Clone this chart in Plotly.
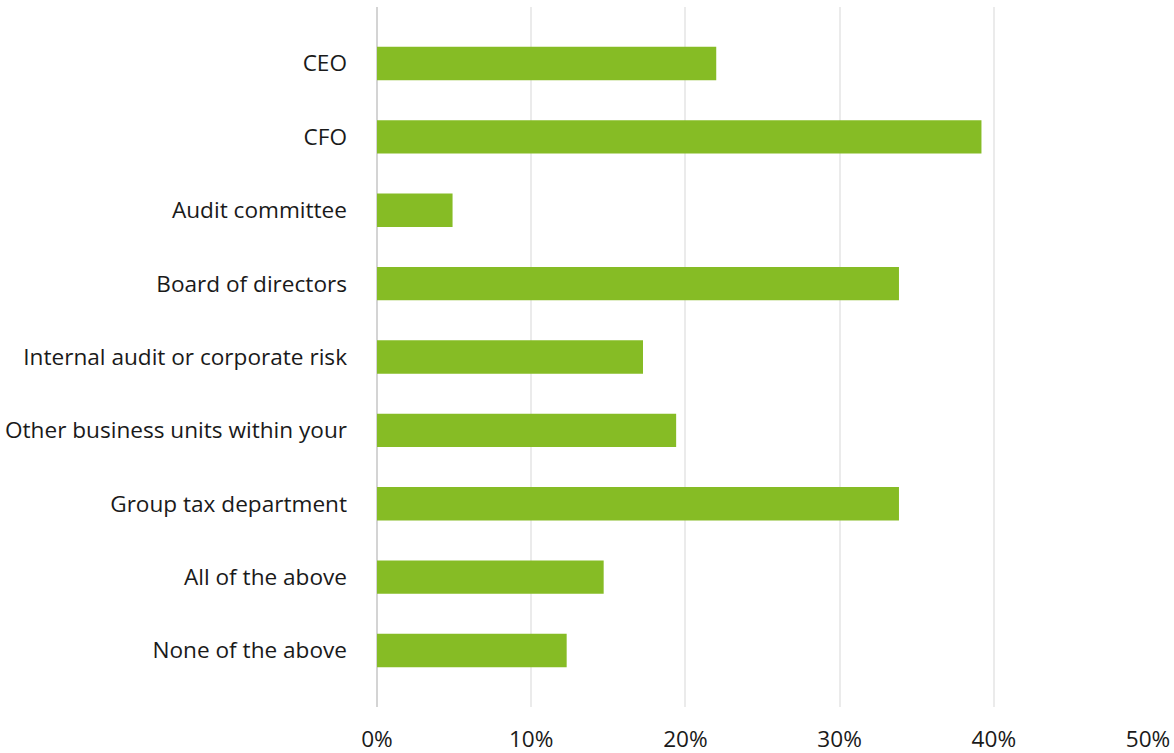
import plotly.graph_objects as go

categories = ["CEO", "CFO", "Audit committee", "Board of directors",
              "Internal audit or corporate risk", "Other business units within your",
              "Group tax department", "All of the above", "None of the above"]
values = [22.0, 39.2, 4.9, 33.85, 17.25, 19.4, 33.85, 14.7, 12.3]
tick_vals = [0, 10, 20, 30, 40, 50]
tick_text = ["0%", "10%", "20%", "30%", "40%", "50%"]

fig = go.Figure(go.Bar(
    x=values, y=categories, orientation="h",
    marker=dict(color="#86bc25", line=dict(width=0)),
    width=0.454,
))

fig.update_layout(
    width=1174, height=753,
    margin=dict(l=377, r=26, t=7, b=46),
    paper_bgcolor="white", plot_bgcolor="white",
    font=dict(family="Open Sans", size=22.6, color="#1a1a1a"),
    showlegend=False,
    bargap=0.5,
)
fig.update_xaxes(
    range=[0, 50], tickvals=tick_vals, ticktext=tick_text,
    showgrid=True, gridcolor="#ebebeb", gridwidth=2,
    zeroline=True, zerolinecolor="#d4d4d4", zerolinewidth=2,
    ticks="", ticklabelstandoff=16, automargin=False, fixedrange=True,
)
fig.update_yaxes(
    categoryorder="array", categoryarray=categories,
    range=[8.77, -0.77], showgrid=False, zeroline=False,
    ticks="", ticklabelstandoff=29, automargin=False,
)

fig.write_html("out.html")
